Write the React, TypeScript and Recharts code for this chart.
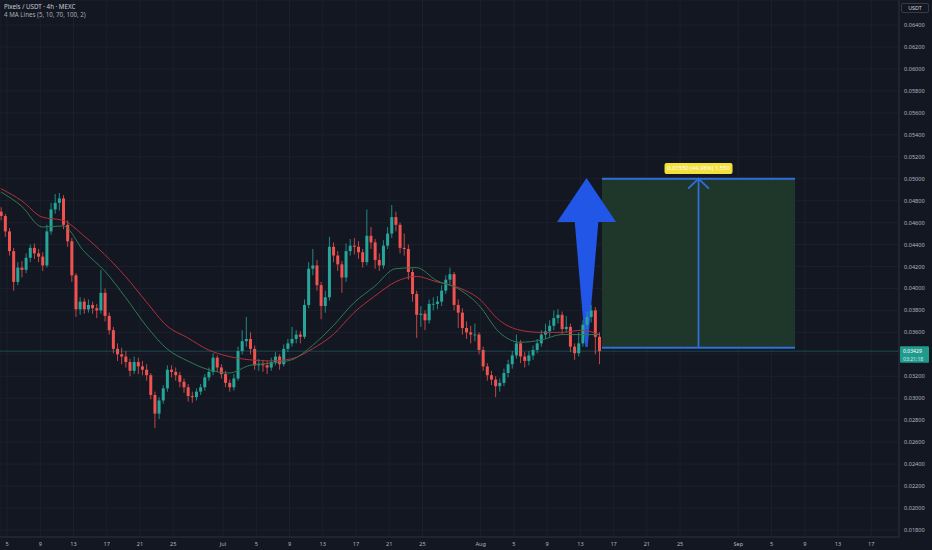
import {
  ComposedChart,
  Bar,
  Line,
  XAxis,
  YAxis,
  CartesianGrid,
  ReferenceArea,
  ReferenceLine,
  ReferenceDot,
} from "recharts";

// time is counted in days from Jun 1 00:00, one candle every 12h
const FIRST_CANDLE_DAY = 3.25;
const CANDLE_STEP = 0.5;
const FIRST_OPEN = 0.047;

const CLOSE = [
  0.0466, 0.0452, 0.0434, 0.0406, 0.0419, 0.0417, 0.0428, 0.0437, 0.0432, 0.0429,
  0.0421, 0.0452, 0.0472, 0.0478, 0.0482, 0.0458, 0.0443, 0.0412, 0.0381, 0.0388,
  0.0381, 0.0385, 0.0382, 0.038, 0.0396, 0.0375, 0.0362, 0.0345, 0.034, 0.0338,
  0.0333, 0.0325, 0.0333, 0.0329, 0.0326, 0.0321, 0.0303, 0.0286, 0.0298, 0.0309,
  0.0326, 0.0324, 0.0321, 0.0315, 0.031, 0.0302, 0.0301, 0.0306, 0.031, 0.0319,
  0.0324, 0.0337, 0.0328, 0.0322, 0.0314, 0.031, 0.0318, 0.0343, 0.0352, 0.0354,
  0.0345, 0.033, 0.0331, 0.033, 0.0328, 0.0333, 0.0338, 0.0331, 0.0345, 0.035,
  0.0354, 0.0358, 0.0356, 0.0385, 0.0418, 0.0421, 0.0403, 0.0384, 0.0392, 0.0438,
  0.043, 0.0422, 0.041, 0.0434, 0.0439, 0.0438, 0.0433, 0.0424, 0.0448, 0.0442,
  0.0426, 0.0421, 0.0439, 0.045, 0.0465, 0.0458, 0.0437, 0.0436, 0.0415, 0.0395,
  0.0376, 0.0377, 0.0371, 0.0386, 0.0386, 0.0388, 0.0398, 0.0408, 0.0413, 0.0385,
  0.0378, 0.0364, 0.036, 0.0358, 0.0358, 0.0344, 0.0329, 0.0321, 0.0317, 0.0311,
  0.0314, 0.0323, 0.0331, 0.0339, 0.035, 0.0338, 0.0334, 0.0339, 0.0344, 0.035,
  0.0358, 0.0361, 0.0366, 0.0373, 0.0376, 0.0363, 0.0365, 0.0347, 0.0341, 0.035,
  0.0367, 0.0374, 0.038, 0.0356, 0.03429,
];

const HIGH = [
  0.0474, 0.0468, 0.0455, 0.0437, 0.0424, 0.0425, 0.0432, 0.044, 0.0441, 0.0436,
  0.0433, 0.0458, 0.0478, 0.0486, 0.0487, 0.0485, 0.0462, 0.0446, 0.0414, 0.0392,
  0.0391, 0.039, 0.0388, 0.0386, 0.0417, 0.04, 0.0378, 0.0365, 0.035, 0.0346,
  0.0343, 0.0336, 0.0338, 0.0337, 0.0334, 0.0331, 0.0323, 0.0306, 0.0301, 0.0312,
  0.033, 0.033, 0.0328, 0.0324, 0.0318, 0.0313, 0.0306, 0.0309, 0.0313, 0.0322,
  0.0328, 0.0341, 0.0339, 0.0331, 0.0325, 0.0317, 0.0322, 0.0347, 0.0362, 0.0374,
  0.036, 0.0348, 0.0336, 0.0335, 0.0334, 0.0337, 0.0342, 0.034, 0.0349, 0.0354,
  0.0365, 0.0362, 0.0361, 0.039, 0.0424, 0.0436, 0.0426, 0.0406, 0.0398, 0.0447,
  0.0442, 0.0434, 0.0425, 0.0441, 0.0445, 0.0446, 0.0443, 0.0436, 0.0472, 0.0456,
  0.0445, 0.0432, 0.0444, 0.0456, 0.0476, 0.047, 0.046, 0.045, 0.044, 0.0418,
  0.0398, 0.0384, 0.038, 0.039, 0.0392, 0.0393, 0.0403, 0.0412, 0.0419, 0.0415,
  0.039, 0.0382, 0.037, 0.0366, 0.0368, 0.036, 0.0347, 0.0332, 0.0325, 0.032,
  0.0318, 0.0327, 0.0335, 0.0343, 0.0358, 0.0353, 0.0342, 0.0343, 0.0348, 0.0354,
  0.0362, 0.0368, 0.0371, 0.038, 0.0381, 0.0379, 0.0375, 0.0368, 0.035, 0.036,
  0.0371, 0.0379, 0.0385, 0.0383, 0.036,
];

const LOW = [
  0.0462, 0.0447, 0.043, 0.0398, 0.0403, 0.041, 0.0414, 0.0424, 0.0427, 0.0424,
  0.0416, 0.0419, 0.0449, 0.0468, 0.0471, 0.0454, 0.0438, 0.0406, 0.0374, 0.0376,
  0.0377, 0.0378, 0.0377, 0.0373, 0.0377, 0.037, 0.0358, 0.0341, 0.0334, 0.0331,
  0.0328, 0.032, 0.0322, 0.0322, 0.0321, 0.0316, 0.0299, 0.0273, 0.0281, 0.0295,
  0.0306, 0.0319, 0.0316, 0.031, 0.0305, 0.0297, 0.0296, 0.0298, 0.0303, 0.0307,
  0.0316, 0.0321, 0.0324, 0.0318, 0.031, 0.0306, 0.0307, 0.0316, 0.034, 0.0347,
  0.034, 0.0326, 0.0325, 0.0324, 0.0322, 0.0325, 0.033, 0.0326, 0.0329, 0.0342,
  0.0347, 0.035, 0.035, 0.0354, 0.0382, 0.0412, 0.0398, 0.0372, 0.0378, 0.0389,
  0.0424, 0.0416, 0.0396, 0.0406, 0.043, 0.0431, 0.0427, 0.0419, 0.0421, 0.0436,
  0.0418, 0.0416, 0.0418, 0.0436, 0.0446, 0.0452, 0.0432, 0.043, 0.0408, 0.0388,
  0.0355, 0.0365, 0.0362, 0.0368, 0.038, 0.0381, 0.0384, 0.0395, 0.0404, 0.038,
  0.0364, 0.0358, 0.0354, 0.035, 0.0352, 0.034, 0.0325, 0.0316, 0.0312, 0.0301,
  0.0306, 0.0311, 0.0319, 0.0327, 0.0336, 0.0332, 0.0328, 0.033, 0.0335, 0.0341,
  0.0347, 0.0354, 0.0356, 0.0362, 0.0368, 0.0358, 0.036, 0.0342, 0.0335, 0.0338,
  0.0347, 0.0363, 0.0369, 0.034, 0.0331,
];

// moving averages at every 5th candle
const MA_CANDLE = [
  0, 5, 10, 15, 20, 25, 30, 35, 40, 45, 50, 55, 60, 65, 70, 75, 80, 85, 90, 95,
  100, 105, 110, 115, 120, 125, 130, 135, 140, 144,
];
const MA_SLOW = [
  0.0491, 0.048, 0.0465, 0.0462, 0.0448, 0.0431, 0.0411, 0.0388, 0.0366, 0.0355,
  0.0344, 0.0338, 0.0335, 0.0334, 0.0336, 0.0345, 0.0358, 0.0378, 0.0393, 0.0406,
  0.0411, 0.0406, 0.0401, 0.0391, 0.0371, 0.0362, 0.036, 0.036, 0.0362, 0.0358,
];
const MA_FAST = [
  0.0488, 0.0475, 0.0456, 0.0457, 0.0434, 0.0416, 0.0392, 0.0366, 0.0345, 0.0334,
  0.0326, 0.0323, 0.033, 0.0332, 0.0335, 0.0348, 0.0366, 0.0387, 0.0402, 0.0418,
  0.0419, 0.0407, 0.04, 0.0385, 0.036, 0.0351, 0.0353, 0.0358, 0.0358, 0.0358,
];

const X_TICKS = [4, 8, 12, 16, 20, 24, 30, 34, 38, 42, 46, 50, 54, 61, 65, 69, 73, 77, 81, 85, 92, 96, 100, 104, 108];
const X_LABELS = ["5", "9", "13", "17", "21", "25", "Jul", "5", "9", "13", "17", "21", "25", "Aug", "5", "9", "13", "17", "21", "25", "Sep", "5", "9", "13", "17"];
const Y_TICKS = [
  0.018, 0.02, 0.022, 0.024, 0.026, 0.028, 0.03, 0.032, 0.034, 0.036, 0.038, 0.04,
  0.042, 0.044, 0.046, 0.048, 0.05, 0.052, 0.054, 0.056, 0.058, 0.06, 0.062, 0.064,
];
// this tick label sits under the last-price tag, as on the original
const Y_TICK_UNDER_TAG = 0.034;

// long setup drawing
const ENTRY = 0.0346;
const TARGET = 0.05;
const BOX_FROM = 75.6;
const BOX_TO = 98.83;
const LAST_PRICE = 0.03429;

const UP = "#26a69a";
const DOWN = "#ef5350";
const BLUE = "#2f6fdc";

const candles = CLOSE.map((close, i) => ({
  t: FIRST_CANDLE_DAY + i * CANDLE_STEP,
  open: i === 0 ? FIRST_OPEN : CLOSE[i - 1],
  close,
  high: HIGH[i],
  low: LOW[i],
}));

const maRows = MA_CANDLE.map((c, i) => ({
  t: FIRST_CANDLE_DAY + c * CANDLE_STEP,
  slow: MA_SLOW[i],
  fast: MA_FAST[i],
}));

const renderCandle = (props: any) => {
  const { x, y, width, height, payload } = props;
  const top = Math.min(y, y + height);
  const h = Math.abs(height);
  const cx = x + width / 2;
  const range = payload.high - payload.low || 1e-9;
  const py = (v: number) => top + ((payload.high - v) / range) * h;
  const color = payload.close >= payload.open ? UP : DOWN;
  const bTop = py(Math.max(payload.open, payload.close));
  const bBot = py(Math.min(payload.open, payload.close));
  return (
    <g>
      <line x1={cx} x2={cx} y1={top} y2={top + h} stroke={color} strokeWidth={0.8} />
      <rect x={x} y={bTop} width={width} height={Math.max(bBot - bTop, 0.8)} fill={color} />
    </g>
  );
};

const renderBigArrow = (props: any) => {
  const { x, y, width: w, height: h } = props;
  const headBase = y + h * 0.26;
  const pts = [
    [x + w / 2, y],
    [x + w, headBase],
    [x + w * 0.7, headBase],
    [x + w * 0.52, y + h],
    [x + w * 0.48, y + h],
    [x + w * 0.3, headBase],
    [x, headBase],
  ];
  return <polygon points={pts.map((p) => p.join(",")).join(" ")} fill="#2156e6" />;
};

const renderMeasureArrow = (props: any) => {
  const { x, y, width: w, height: h } = props;
  const cx = x + w / 2;
  return (
    <g stroke={BLUE} strokeWidth={1.8} fill="none">
      <line x1={cx} x2={cx} y1={y} y2={y + h} />
      <polyline points={`${x},${y + 10} ${cx},${y} ${x + w},${y + 10}`} />
    </g>
  );
};

const renderTargetLabel = (props: any) => {
  const { cx, cy } = props;
  return (
    <g>
      <rect x={cx - 34} y={cy - 5.5} width={68} height={11} rx={2} fill="#f3e03a" />
      <text x={cx} y={cy + 2} textAnchor="middle" fontSize={5.8} fill="#ffffff">
        0.01550 (44.98%) 1,550
      </text>
    </g>
  );
};

const renderPriceTag = (props: any) => {
  const vb = props.viewBox || {};
  const left = vb.x + vb.width + 1;
  const y = vb.y;
  return (
    <g>
      <rect x={left} y={y - 5} width={29} height={16.5} rx={1} fill="#1f9a8c" />
      <text x={left + 3} y={y + 1.5} fontSize={5.1} fill="#ffffff">
        {LAST_PRICE.toFixed(5)}
      </text>
      <text x={left + 3} y={y + 9.4} fontSize={5.1} fill="#cdeee9">
        03:21:18
      </text>
    </g>
  );
};

export default function App() {
  return (
    <div
      style={{
        position: "relative",
        width: 932,
        height: 550,
        background: "#131722",
        fontFamily: "'Noto Sans', sans-serif",
      }}
    >
      <style>{"body{margin:0;background:#131722}"}</style>
      <ComposedChart
        width={932}
        height={550}
        data={candles}
        margin={{ top: 0, right: 0, bottom: 0, left: 0 }}
      >
        <CartesianGrid stroke="#1c202c" strokeWidth={1} />
        <XAxis
          dataKey="t"
          type="number"
          domain={[3.158, 111.34]}
          allowDataOverflow
          ticks={X_TICKS}
          interval={0}
          tickFormatter={(v: number) => X_LABELS[X_TICKS.indexOf(v)] ?? ""}
          height={13}
          tickLine={false}
          tickSize={0}
          tickMargin={5}
          axisLine={{ stroke: "#2a2e39" }}
          tick={{ fill: "#b2b5be", fontSize: 5.6 }}
        />
        <YAxis
          orientation="right"
          type="number"
          domain={[0.01736, 0.06628]}
          allowDataOverflow
          ticks={Y_TICKS}
          interval={0}
          width={33}
          tickLine={false}
          tickSize={0}
          tickMargin={5}
          axisLine={{ stroke: "#2a2e39" }}
          tickFormatter={(v: number) => (v === Y_TICK_UNDER_TAG ? "" : v.toFixed(5))}
          tick={{ fill: "#b2b5be", fontSize: 5.6, textAnchor: "start" }}
        />
        <ReferenceLine
          y={LAST_PRICE}
          stroke={UP}
          strokeOpacity={0.35}
          label={renderPriceTag}
        />
        <ReferenceArea
          x1={BOX_FROM}
          x2={BOX_TO}
          y1={ENTRY}
          y2={TARGET}
          fill="#1f372a"
          fillOpacity={1}
          stroke="none"
        />
        <ReferenceLine
          segment={[{ x: BOX_FROM, y: TARGET }, { x: BOX_TO, y: TARGET }]}
          stroke={BLUE}
          strokeWidth={2}
        />
        <ReferenceLine
          segment={[{ x: BOX_FROM, y: ENTRY }, { x: BOX_TO, y: ENTRY }]}
          stroke={BLUE}
          strokeWidth={2}
        />
        <ReferenceArea
          x1={(BOX_FROM + BOX_TO) / 2 - 1.25}
          x2={(BOX_FROM + BOX_TO) / 2 + 1.25}
          y1={ENTRY}
          y2={TARGET}
          shape={renderMeasureArrow}
        />
        <Line
          data={maRows}
          dataKey="slow"
          type="monotone"
          stroke="#b3303e"
          strokeWidth={1}
          dot={false}
          activeDot={false}
          legendType="none"
          isAnimationActive={false}
        />
        <Line
          data={maRows}
          dataKey="fast"
          type="monotone"
          stroke="#2f7a52"
          strokeWidth={1}
          dot={false}
          activeDot={false}
          legendType="none"
          isAnimationActive={false}
        />
        <Bar
          dataKey={(d: any) => [d.low, d.high]}
          barSize={3}
          shape={renderCandle}
          activeBar={false}
          isAnimationActive={false}
        />
        <ReferenceArea
          x1={70.19}
          x2={77.29}
          y1={0.03467}
          y2={0.05007}
          shape={renderBigArrow}
        />
        <ReferenceDot
          x={(BOX_FROM + BOX_TO) / 2}
          y={0.05093}
          r={0}
          shape={renderTargetLabel}
        />
      </ComposedChart>
      <div
        style={{
          position: "absolute",
          left: 4,
          top: 3,
          color: "#c8cbd3",
          fontSize: 6.2,
          lineHeight: "8px",
        }}
      >
        <div>Pixels / USDT · 4h · MEXC</div>
        <div style={{ color: "#a9acb5" }}>4 MA Lines (5, 10, 70, 100, 2)</div>
      </div>
      <div
        style={{
          position: "absolute",
          left: 901,
          top: 3,
          width: 28,
          height: 10,
          boxSizing: "border-box",
          border: "1px solid #363a45",
          borderRadius: 2,
          background: "#131722",
          color: "#d1d4dc",
          fontSize: 5.4,
          lineHeight: "8px",
          textAlign: "center",
        }}
      >
        USDT
      </div>
    </div>
  );
}
